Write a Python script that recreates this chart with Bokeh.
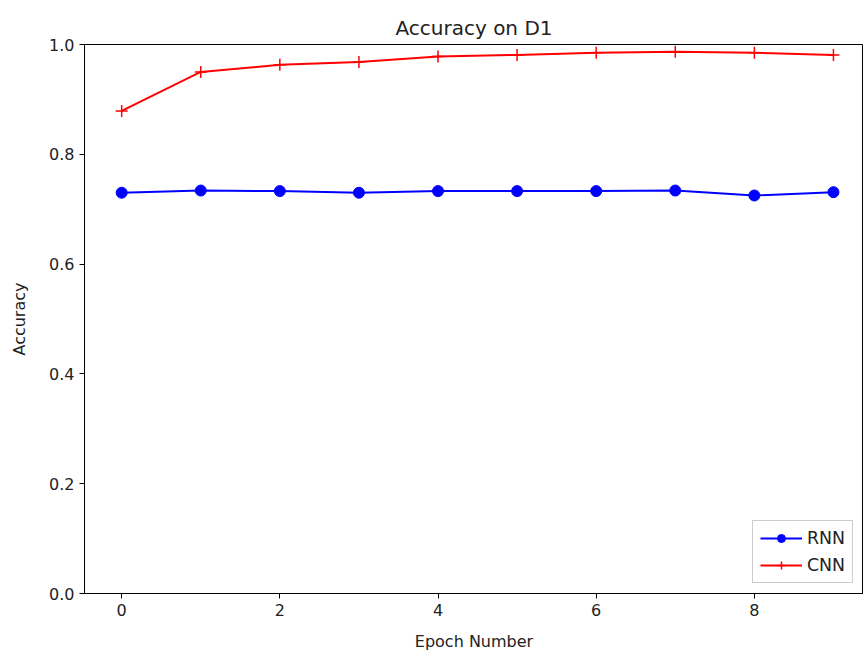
from bokeh.plotting import figure
from bokeh.models import Range1d, FixedTicker, Legend, LegendItem, PrintfTickFormatter
from bokeh.embed import file_html
from bokeh.resources import INLINE

epochs = [0, 1, 2, 3, 4, 5, 6, 7, 8, 9]
rnn_acc = [0.730, 0.734, 0.733, 0.730, 0.733, 0.733, 0.733, 0.734, 0.725, 0.731]
cnn_acc = [0.879, 0.950, 0.963, 0.968, 0.978, 0.981, 0.985, 0.987, 0.985, 0.981]
x_ticks = [0, 2, 4, 6, 8]
y_ticks = [0.0, 0.2, 0.4, 0.6, 0.8, 1.0]

FONT = "DejaVu Sans"

p = figure(width=863, height=653, output_backend="svg", toolbar_location=None,
           x_range=Range1d(-0.47, 9.38), y_range=Range1d(0.0, 1.0),
           min_border_left=84, min_border_top=44, min_border_bottom=58, min_border_right=0,
           title="Accuracy on D1")
p.title.align = "center"
p.title.text_font = FONT
p.title.text_font_size = "15pt"
p.title.text_font_style = "normal"
p.title.text_color = "#222222"

p.xgrid.visible = False
p.ygrid.visible = False
p.outline_line_color = "black"
p.outline_line_width = 1

for ax in (p.xaxis[0], p.yaxis[0]):
    ax.major_label_text_font = FONT
    ax.major_label_text_font_size = "12pt"
    ax.major_label_text_color = "#222222"
    ax.axis_label_text_font = FONT
    ax.axis_label_text_font_size = "12pt"
    ax.axis_label_text_font_style = "normal"
    ax.axis_label_text_color = "#222222"
    ax.minor_tick_line_color = None
    ax.major_tick_in = 0
    ax.major_tick_out = 5
    ax.axis_line_color = "black"

p.xaxis.ticker = FixedTicker(ticks=x_ticks)
p.yaxis.ticker = FixedTicker(ticks=y_ticks)
p.yaxis.formatter = PrintfTickFormatter(format="%.1f")
p.xaxis.axis_label = "Epoch Number"
p.yaxis.axis_label = "Accuracy"
p.xaxis.axis_label_standoff = 13
p.yaxis.axis_label_standoff = 17

r1 = p.line(epochs, rnn_acc, line_color="blue", line_width=2)
r1m = p.scatter(epochs, rnn_acc, marker="circle", size=11, fill_color="blue", line_color="blue")
r2 = p.line(epochs, cnn_acc, line_color="red", line_width=2)
r2m = p.scatter(epochs, cnn_acc, marker="cross", size=12, line_color="red", line_width=1.5)

legend = Legend(items=[LegendItem(label="RNN", renderers=[r1, r1m]),
                       LegendItem(label="CNN", renderers=[r2, r2m])],
                location="bottom_right")
legend.label_text_font = FONT
legend.label_text_font_size = "13pt"
legend.label_text_color = "#222222"
legend.border_line_color = "#cccccc"
legend.border_line_alpha = 1
legend.background_fill_alpha = 0.8
legend.glyph_width = 42
legend.spacing = 7
legend.padding = 7
legend.margin = 10
p.add_layout(legend)

open("out.html", "w").write(file_html(p, INLINE))
